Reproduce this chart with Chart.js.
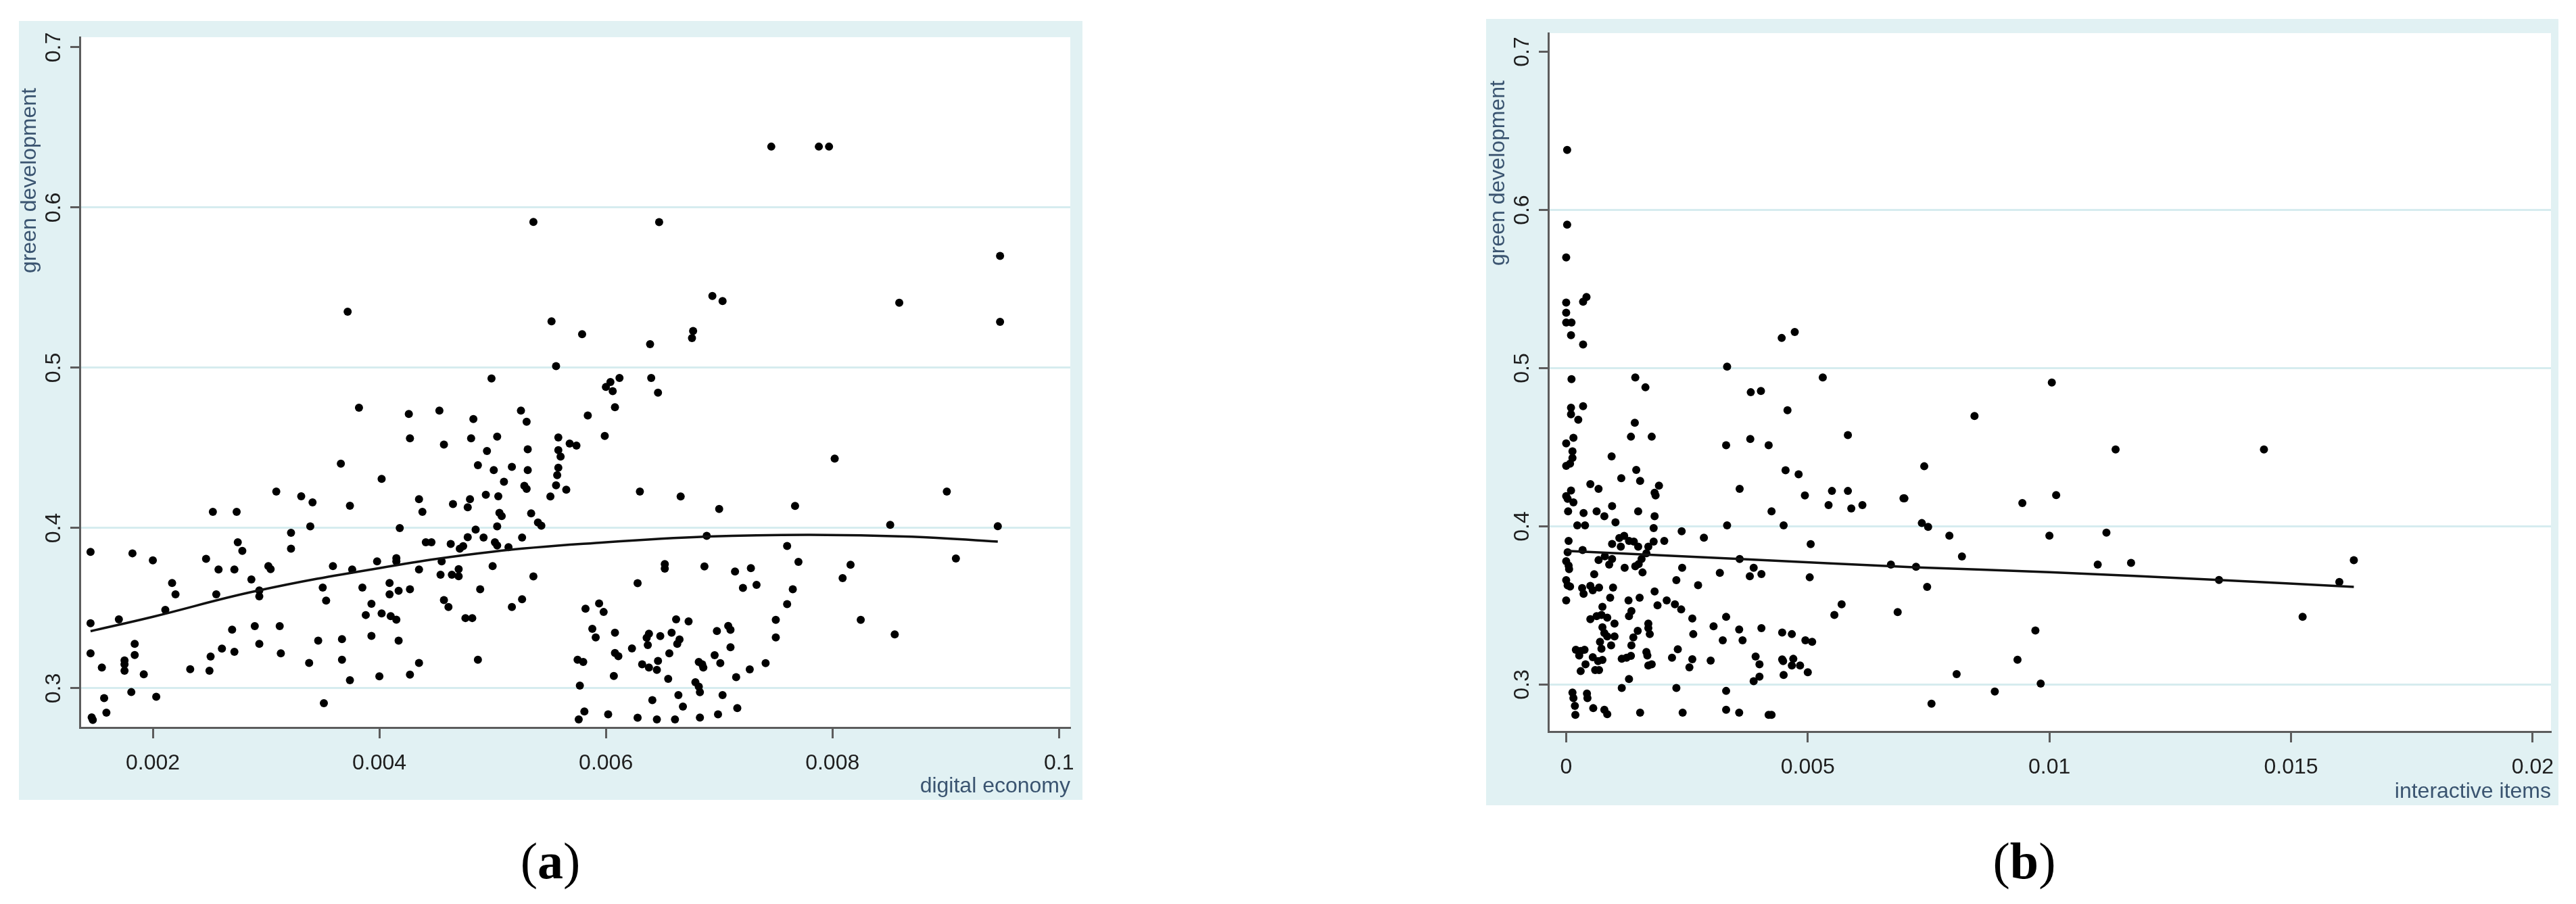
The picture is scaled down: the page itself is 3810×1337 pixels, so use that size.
<!DOCTYPE html>
<html>
<head>
<meta charset="utf-8">
<script src="https://cdn.jsdelivr.net/npm/chart.js@4.4.1/dist/chart.umd.min.js"></script>
<style>
  body { margin: 0; width: 3810px; height: 1337px; background: #fff; position: relative; overflow: hidden; }
  canvas { position: absolute; background: #e1f1f3; }
  #chartA { left: 28px; top: 31px; }
  #chartB { left: 2198px; top: 28px; }
  .cap { position: absolute; top: 1228px; width: 240px; text-align: center; font: 76px/90px "Liberation Serif", "DejaVu Serif", serif; color: #000; }
</style>
</head>
<body>
<canvas id="chartA" width="1573" height="1152"></canvas>
<canvas id="chartB" width="1586" height="1163"></canvas>
<div class="cap" style="left:694px">(<b>a</b>)</div>
<div class="cap" style="left:2874px">(<b>b</b>)</div>
<script>
// tick values and labels
const yTicks = [0.3, 0.4, 0.5, 0.6, 0.7];
const yLabels = ['0.3', '0.4', '0.5', '0.6', '0.7'];
const xTicksA = [0.002, 0.004, 0.006, 0.008, 0.010];
const xLabelsA = ['0.002', '0.004', '0.006', '0.008', '0.1'];
const xTicksB = [0, 0.005, 0.01, 0.015, 0.02];
const xLabelsB = ['0', '0.005', '0.01', '0.015', '0.02'];

// (a) digital economy vs green development
const pointsA = [
  [0.00536,0.591],[0.00372,0.535],[0.00552,0.529],[0.00579,0.521],[0.00556,0.501],[0.00499,0.4933],[0.00600,0.488],
  [0.00382,0.4751],[0.00426,0.4712],[0.00453,0.4733],[0.00483,0.468],[0.00525,0.4733],[0.00530,0.4663],[0.00584,0.4702],
  [0.00746,0.638],[0.00788,0.638],[0.00797,0.638],[0.00647,0.5909],[0.00948,0.5698],[0.00694,0.5448],[0.00703,0.5416],
  [0.00859,0.5406],[0.00948,0.5287],[0.00639,0.5147],[0.00677,0.523],[0.00676,0.5185],[0.00612,0.4936],[0.00604,0.4911],
  [0.00606,0.4854],[0.00640,0.4936],[0.00646,0.4845],[0.00608,0.4754],[0.00599,0.4575],[0.00802,0.4433],[0.00558,0.4565],
  [0.00568,0.4527],[0.00574,0.4514],[0.00558,0.4486],[0.00560,0.4446],[0.00558,0.4376],
  [0.00557,0.433],[0.00556,0.4267],[0.00565,0.4239],[0.00551,0.4197],[0.00534,0.4091],[0.00540,0.4035],[0.00543,0.4014],
  [0.00630,0.4228],[0.00666,0.4197],[0.00700,0.4119],[0.00767,0.4138],[0.00901,0.4228],[0.00851,0.402],[0.00946,0.4011],
  [0.00689,0.3951],[0.00760,0.3888],[0.00770,0.3789],[0.00816,0.3771],[0.00809,0.3687],[0.00909,0.381],[0.00536,0.3698],
  [0.00652,0.3775],[0.00652,0.3747],[0.00687,0.376],[0.00714,0.3729],[0.00728,0.375],[0.00628,0.3656],[0.00721,0.3626],
  [0.00733,0.3645],[0.00765,0.3618],[0.00760,0.3525],[0.00750,0.3427],[0.00750,0.3317],[0.00825,0.3427],[0.00855,0.3336],
  [0.00582,0.3497],[0.00594,0.3529],[0.00598,0.3476],[0.00588,0.3371],[0.00591,0.3317],[0.00608,0.3347],[0.00662,0.343],
  [0.00673,0.3417],[0.00638,0.334],[0.00636,0.3315],[0.00648,0.3326],[0.00658,0.3347],[0.00665,0.3305],[0.00663,0.3277],
  [0.00637,0.327],[0.00623,0.3249],[0.00608,0.322],[0.00611,0.32],[0.00698,0.3357],[0.00708,0.3389],[0.00710,0.3365],
  [0.00710,0.3256],[0.00696,0.3206],[0.00701,0.3157],[0.00656,0.3218],[0.00646,0.3171],[0.00632,0.315],[0.00638,0.3129],
  [0.00645,0.3115],[0.00682,0.3164],[0.00685,0.315],[0.00686,0.3129],[0.00575,0.3178],[0.00580,0.3164],[0.00741,0.3157],
  [0.00727,0.3118],[0.00715,0.3069],[0.00655,0.3059],[0.00607,0.3077],[0.00577,0.3017],[0.00679,0.3038],[0.00682,0.301],
  [0.00683,0.2975],[0.00703,0.2958],[0.00664,0.2958],[0.00641,0.2926],[0.00668,0.2886],[0.00716,0.2876],[0.00581,0.2855],
  [0.00576,0.2806],[0.00602,0.2837],[0.00628,0.2816],[0.00645,0.2806],[0.00661,0.2806],[0.00683,0.2817],[0.00699,0.2837],
  [0.00427,0.456],[0.00457,0.4521],[0.00481,0.456],[0.00504,0.457],[0.00531,0.4491],[0.00366,0.4402],[0.00495,0.4481],
  [0.00487,0.4392],[0.00501,0.4362],[0.00517,0.4382],[0.00531,0.4362],[0.00402,0.4307],[0.00510,0.4289],[0.00528,0.4263],
  [0.00530,0.4244],[0.00494,0.4208],[0.00505,0.4198],[0.00435,0.418],[0.00465,0.415],[0.00480,0.418],[0.00478,0.4129],
  [0.00374,0.4139],[0.00438,0.4101],[0.00506,0.4095],[0.00508,0.4075],[0.00253,0.4101],[0.00274,0.4101],[0.00309,0.4228],
  [0.00331,0.4198],[0.00341,0.416],[0.00339,0.401],[0.00418,0.4],[0.00504,0.401],[0.00485,0.399],[0.00478,0.3943],
  [0.00492,0.3941],[0.00502,0.3911],[0.00504,0.3891],[0.00514,0.3881],[0.00526,0.3941],[0.00441,0.3911],[0.00446,0.3911],
  [0.00463,0.3901],[0.00471,0.3871],[0.00474,0.3887],[0.00322,0.397],[0.00322,0.3871],[0.00275,0.3911],[0.00279,0.3857],
  [0.00145,0.3851],[0.00182,0.3842],[0.00200,0.3798],[0.00247,0.3808],[0.00258,0.3741],[0.00272,0.3741],[0.00302,0.3762],
  [0.00304,0.3743],[0.00359,0.3762],[0.00376,0.3741],[0.00398,0.3792],[0.00415,0.3812],[0.00415,0.3792],[0.00435,0.3741],
  [0.00455,0.3792],[0.00454,0.3709],[0.00464,0.3709],[0.00470,0.3743],[0.00470,0.3699],[0.00500,0.3762],[0.00217,0.3657],
  [0.00220,0.3586],[0.00211,0.3489],[0.00170,0.343],[0.00145,0.3406],[0.00256,0.3586],[0.00287,0.3679],[0.00294,0.361],
  [0.00294,0.3574],[0.00350,0.3628],[0.00353,0.3547],[0.00385,0.3628],[0.00409,0.3657],[0.00409,0.3586],[0.00417,0.3608],
  [0.00427,0.3618],[0.00393,0.3527],[0.00388,0.3457],[0.00402,0.3467],[0.00410,0.345],[0.00415,0.3428],[0.00457,0.355],
  [0.00461,0.3507],[0.00476,0.3438],[0.00482,0.3438],[0.00489,0.3618],[0.00517,0.3507],[0.00526,0.3556],[0.00270,0.3366],
  [0.00290,0.3388],[0.00312,0.3388],[0.00346,0.3297],[0.00367,0.3307],[0.00393,0.3327],[0.00417,0.3297],[0.00184,0.3277],
  [0.00184,0.3208],[0.00175,0.3174],[0.00175,0.315],[0.00175,0.3109],[0.00145,0.3218],[0.00155,0.3129],[0.00192,0.3087],
  [0.00233,0.3119],[0.00250,0.3109],[0.00251,0.3198],[0.00261,0.3248],[0.00272,0.3228],[0.00294,0.3277],[0.00313,0.3218],
  [0.00338,0.3158],[0.00367,0.3178],[0.00374,0.305],[0.00400,0.3075],[0.00427,0.3085],[0.00435,0.3158],[0.00487,0.3178],
  [0.00181,0.2976],[0.00203,0.2947],[0.00157,0.2939],[0.00159,0.2848],[0.00146,0.2818],[0.00147,0.2802],[0.00351,0.2907]
];
const fitA = [
  [0.00145,0.3356],[0.002,0.3446],[0.0029,0.3605],[0.004,0.3750],[0.005,0.3852],
  [0.006,0.3911],[0.0069,0.3947],[0.0078,0.3958],[0.0087,0.3946],[0.00946,0.3915]
];

// (b) interactive items vs green development
const pointsB = [
  [0.00002,0.638],[0.00002,0.5907],[0,0.57],[0,0.5415],[0,0.5351],[0,0.5289],[0.00011,0.5289],[0.0001,0.5209],
  [0.00035,0.542],[0.00042,0.545],[0.00035,0.515],[0.00011,0.4931],[0.00143,0.4941],[0.00164,0.4879],[0.00333,0.501],
  [0.00382,0.4848],[0.00403,0.4856],[0.00446,0.5191],[0.00473,0.5229],[0.00531,0.4941],[0.00458,0.4734],[0.0001,0.475],
  [0.00035,0.476],[0.0001,0.4709],[0.00025,0.4674],[0.00142,0.4655],[0.00134,0.4567],[0.00177,0.4567],[0.00381,0.4553],
  [0.00331,0.4513],[0.00419,0.4513],[0.00583,0.4577],[0.00015,0.456],[0,0.4525],[0.00013,0.4475],[0.00013,0.4433],
  [0,0.4383],[0.00008,0.4397],[0.00094,0.4443],[0.00145,0.4357],[0.00114,0.4305],[0.00153,0.4288],[0.0005,0.4267],
  [0.00067,0.4237],[0.00192,0.4258],[0.00183,0.4213],[0.00185,0.4196],[0.00454,0.4355],[0.00481,0.4329],[0.00359,0.4237],
  [0.00494,0.4196],[0.0055,0.4224],[0.00583,0.4224],[0.00543,0.4135],[0.0059,0.4113],[0.00613,0.4135],[0.007,0.4177],
  [0.0001,0.4227],[0,0.4191],[0.00003,0.4174],[0.00015,0.4152],[0.00004,0.4095],[0.00036,0.4085],[0.00063,0.4095],
  [0.00079,0.4064],[0.00095,0.4128],[0.00102,0.4026],[0.00149,0.4095],[0.00183,0.4064],[0.00023,0.4007],[0.00039,0.4007],
  [0.00181,0.3989],[0.00239,0.3969],[0.00285,0.3929],[0.00333,0.4007],[0.0045,0.4007],[0.00425,0.4095],[0.00506,0.3888],
  [0.00005,0.3908],[0.00003,0.3837],[0.00034,0.3851],[0.00095,0.3889],[0.0011,0.3926],[0.0012,0.394],[0.00113,0.3872],
  [0.0013,0.3908],[0.0014,0.3904],[0.00149,0.3872],[0.0017,0.3872],[0.00181,0.3904],[0.00203,0.3908],[0.00166,0.383],
  [0,0.378],[0.00005,0.3752],[0.00006,0.373],[0.00067,0.3787],[0.0008,0.3811],[0.00095,0.3794],[0.00089,0.3759],
  [0.00121,0.3738],[0.00143,0.3748],[0.0015,0.3762],[0.00156,0.3794],[0.00158,0.3709],[0.0024,0.3738],[0.00359,0.3794],
  [0.00388,0.3738],[0.0038,0.3685],[0.00404,0.3699],[0.00318,0.3706],[0.00504,0.3678],[0.00672,0.3759],[0.00724,0.3745],
  [0.00058,0.3698],[0,0.366],[0.00003,0.3627],[0.00008,0.362],[0.00033,0.361],[0.00036,0.3574],[0.0005,0.3624],
  [0.00055,0.3596],[0.00068,0.3613],[0.00097,0.3613],[0.00091,0.3549],[0,0.3532],[0.00228,0.366],[0.00273,0.3628],
  [0.00183,0.3589],[0.00129,0.3532],[0.00152,0.3549],[0.00189,0.3501],[0.00208,0.3532],[0.00225,0.3508],[0.00238,0.3475],
  [0.00261,0.3418],[0.00331,0.3428],[0.00075,0.3492],[0.0005,0.3414],[0.00063,0.3433],[0.00073,0.344],[0.00085,0.3423],
  [0.001,0.3386],[0.00135,0.3465],[0.0013,0.3433],[0.0017,0.3386],[0.00075,0.3362],[0.00079,0.3326],[0.0007,0.327],
  [0.00073,0.3227],[0.00085,0.3305],[0.001,0.3305],[0.00093,0.3248],[0.00148,0.334],[0.00139,0.3298],[0.00135,0.3248],
  [0.0017,0.3357],[0.00173,0.3319],[0.00263,0.3319],[0.00305,0.3369],[0.00358,0.3348],[0.00404,0.3357],[0.00324,0.328],
  [0.00365,0.328],[0.00447,0.3329],[0.00467,0.3319],[0.00495,0.328],[0.00509,0.327],[0.0057,0.3508],[0.00555,0.344],
  [0.00686,0.3458],[0.0002,0.322],[0.0003,0.3213],[0.00038,0.322],[0.00027,0.3184],[0.00055,0.3173],[0.00066,0.3149],
  [0.00075,0.3156],[0.0004,0.3128],[0.0003,0.3085],[0.0006,0.3092],[0.00068,0.3092],[0.00115,0.3163],[0.00125,0.317],
  [0.00134,0.3182],[0.00166,0.3206],[0.00168,0.3184],[0.0017,0.3121],[0.00177,0.3128],[0.00219,0.317],[0.00231,0.3223],
  [0.00261,0.316],[0.00255,0.3109],[0.00299,0.3152],[0.00392,0.3177],[0.004,0.3128],[0.00388,0.3021],[0.004,0.305],
  [0.00447,0.3159],[0.00449,0.3149],[0.0047,0.3163],[0.00467,0.3121],[0.00484,0.3121],[0.005,0.3078],[0.0045,0.3061],
  [0.0013,0.3035],[0.00115,0.2979],[0.00228,0.2979],[0.00331,0.296],[0.00013,0.295],[0.00015,0.2915],[0.00018,0.2865],
  [0.00019,0.2809],[0.00043,0.2943],[0.00044,0.2915],[0.00056,0.2851],[0.00079,0.2841],[0.00085,0.2813],[0.00153,0.2823],
  [0.00241,0.2823],[0.00331,0.2841],[0.00358,0.2823],[0.00419,0.2809],[0.00425,0.2809],
  [0.01005,0.4909],[0.00845,0.4698],[0.01137,0.4486],[0.01444,0.4486],[0.00741,0.438],[0.00698,0.4178],[0.00944,0.4148],
  [0.01014,0.4198],[0.00736,0.4021],[0.00749,0.3997],[0.00793,0.3941],[0.01,0.3941],[0.01118,0.3961],[0.00819,0.381],
  [0.011,0.3759],[0.01169,0.3769],[0.0163,0.3786],[0.01351,0.3661],[0.016,0.3649],[0.00747,0.3618],[0.01524,0.3429],
  [0.00971,0.3342],[0.00934,0.3157],[0.00808,0.3066],[0.00982,0.3006],[0.00887,0.2956],[0.00756,0.2879]
];
const fitB = [[0,0.3845],[0.0036,0.3794],[0.0072,0.3742],[0.01,0.3711],[0.0135,0.3661],[0.0163,0.3618]];

const tickFont = { family: '"Liberation Sans", Arial, sans-serif', size: 32 };
const titleFont = { family: '"Liberation Sans", Arial, sans-serif', size: 32, lineHeight: 1 };
const titleColor = '#3a5470';
const gridBlue = 'rgb(214,236,239)';
const axisGray = '#5c5c5c';

// white plot area + rotated y title near the top of the axis
const panelPlugin = {
  id: 'panel',
  beforeDraw(chart) {
    const a = chart.chartArea, ctx = chart.ctx;
    ctx.save();
    ctx.fillStyle = '#fff';
    ctx.fillRect(a.left, a.top, a.right - a.left, a.bottom - a.top);
    ctx.restore();
  },
  afterDraw(chart, args, opts) {
    const a = chart.chartArea, ctx = chart.ctx;
    ctx.save();
    ctx.translate(a.left - 74, a.top + opts.titleOffset);
    ctx.rotate(-Math.PI / 2);
    ctx.font = '32px "Liberation Sans", Arial, sans-serif';
    ctx.fillStyle = titleColor;
    ctx.textAlign = 'right';
    ctx.textBaseline = 'middle';
    ctx.fillText(opts.yTitle, 0, 0);
    ctx.restore();
  }
};

function makeChart(id, points, fit, xr, yr, xTicks, xLabels, xTitle, box, titleOffset) {
  const canvas = document.getElementById(id);
  const W = canvas.width, H = canvas.height;
  return new Chart(canvas, {
    type: 'scatter',
    data: {
      datasets: [
        {
          type: 'line',
          data: fit.map(p => ({ x: p[0], y: p[1] })),
          borderColor: '#111',
          borderWidth: 3.5,
          pointRadius: 0,
          tension: 0.4,
          fill: false,
          order: 0
        },
        {
          data: points.map(p => ({ x: p[0], y: p[1] })),
          backgroundColor: '#000',
          borderWidth: 0,
          pointRadius: 6,
          order: 1
        }
      ]
    },
    plugins: [panelPlugin],
    options: {
      responsive: false,
      devicePixelRatio: 1,
      animation: false,
      events: [],
      layout: { padding: { left: 0, top: box.top, right: W - box.right, bottom: 0 } },
      plugins: {
        legend: { display: false },
        tooltip: { enabled: false },
        panel: { yTitle: 'green development', titleOffset: titleOffset }
      },
      scales: {
        x: {
          type: 'linear',
          min: xr[0],
          max: xr[1],
          afterBuildTicks: s => { s.ticks = xTicks.map(v => ({ value: v })); },
          afterFit: s => { s.height = H - box.bottom; s.paddingLeft = 0; s.paddingRight = 0; },
          grid: { drawOnChartArea: false, drawTicks: true, tickLength: 16, tickColor: axisGray, tickWidth: 3 },
          border: { display: true, color: axisGray, width: 3 },
          ticks: {
            padding: 18,
            color: '#1e1e1e',
            font: tickFont,
            maxRotation: 0,
            autoSkip: false,
            callback: v => xLabels[xTicks.indexOf(v)]
          },
          title: { display: true, text: xTitle, align: 'end', color: titleColor, font: titleFont, padding: { top: 0, bottom: 4 } }
        },
        y: {
          type: 'linear',
          min: yr[0],
          max: yr[1],
          afterBuildTicks: s => { s.ticks = yTicks.map(v => ({ value: v })); },
          afterFit: s => { s.width = box.left; s.paddingTop = 0; s.paddingBottom = 0; },
          grid: {
            color: c => (c.tick && c.tick.value === 0.7) ? 'rgba(0,0,0,0)' : gridBlue,
            lineWidth: 3,
            drawTicks: true,
            tickLength: 14,
            tickColor: axisGray,
            tickWidth: 3
          },
          border: { display: true, color: axisGray, width: 3 },
          ticks: {
            padding: 2,
            color: '#1e1e1e',
            font: tickFont,
            minRotation: 90,
            maxRotation: 90,
            crossAlign: 'center',
            autoSkip: false,
            callback: v => yLabels[yTicks.indexOf(v)]
          }
        }
      }
    }
  });
}

makeChart('chartA', pointsA, fitA, [0.001355, 0.0101], [0.2755, 0.7063],
  xTicksA, xLabelsA, 'digital economy', { left: 90, top: 24, right: 1555, bottom: 1045 }, 75);

makeChart('chartB', pointsB, fitB, [-0.00037, 0.02038], [0.2703, 0.7118],
  xTicksB, xLabelsB, 'interactive items', { left: 92, top: 21, right: 1575, bottom: 1054 }, 70);
</script>
</body>
</html>
